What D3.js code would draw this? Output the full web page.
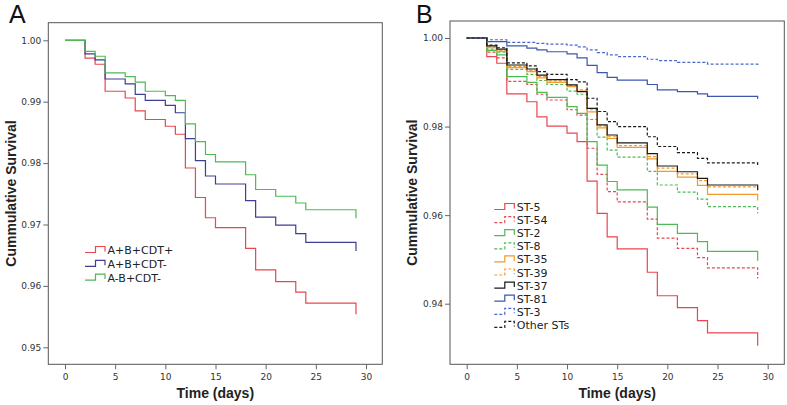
<!DOCTYPE html>
<html>
<head>
<meta charset="utf-8">
<script src="https://cdn.jsdelivr.net/npm/d3@7"></script>
<style>
  body { margin: 0; background: #fff; }
  svg { display: block; }
  .tick text { font-family: "DejaVu Sans", sans-serif; font-size: 9px; fill: #333; }
  .tick line { stroke: #666; }
  .title { font-family: "Liberation Sans Narrow", "Liberation Sans", sans-serif; font-weight: bold; font-size: 14px; fill: #222; }
  .legend { font-family: "DejaVu Sans", sans-serif; font-size: 11px; fill: #222; }
  .letter { font-family: "Liberation Sans", Arial, sans-serif; font-size: 25px; fill: #111; }
</style>
</head>
<body>
<svg id="chart" width="787" height="405"></svg>
<script>
// jours d'événements (communs à toutes les courbes)
const days = [0, 2, 3, 4, 6, 7, 8, 10, 11, 12, 13, 14, 15, 18, 19, 21, 23, 24, 29];

// === Panneau A ===
const groupsA = ["A+B+CDT+", "A+B+CDT-", "A-B+CDT-"];
const survA1 = [1, 0.9971, 0.9961, 0.9917, 0.9906, 0.9885, 0.9871, 0.9860, 0.9847, 0.9792, 0.9744, 0.9711, 0.9695, 0.9661, 0.9626, 0.9607, 0.9590, 0.9572, 0.9554];
const survA2 = [1, 0.9978, 0.9968, 0.9937, 0.9929, 0.9912, 0.9902, 0.9894, 0.9882, 0.9840, 0.9804, 0.9779, 0.9766, 0.9739, 0.9712, 0.9699, 0.9685, 0.9671, 0.9657];
const survA3 = [1, 0.9982, 0.9974, 0.9947, 0.9941, 0.9932, 0.9917, 0.9910, 0.9902, 0.9864, 0.9835, 0.9814, 0.9802, 0.9781, 0.9757, 0.9746, 0.9735, 0.9724, 0.9710];
const ticksA = [0.95, 0.96, 0.97, 0.98, 0.99, 1.00];

// === Panneau B ===
const groupsB = ["ST-5", "ST-54", "ST-2", "ST-8", "ST-35", "ST-39", "ST-37", "ST-81", "ST-3", "Other STs"];
const st5   = [1, 0.9958, 0.9943, 0.9874, 0.9856, 0.9822, 0.9801, 0.9785, 0.9766, 0.9677, 0.9604, 0.9551, 0.9524, 0.9471, 0.9418, 0.9391, 0.9362, 0.9334, 0.9305];
const st54  = [1, 0.9968, 0.9955, 0.9902, 0.9895, 0.9873, 0.9860, 0.9838, 0.9826, 0.9751, 0.9692, 0.9653, 0.9630, 0.9591, 0.9548, 0.9525, 0.9504, 0.9481, 0.9457];
const st2   = [1, 0.9972, 0.9962, 0.9913, 0.9900, 0.9877, 0.9866, 0.9845, 0.9830, 0.9766, 0.9713, 0.9676, 0.9657, 0.9618, 0.9579, 0.9559, 0.9540, 0.9518, 0.9497];
const st8   = [1, 0.9975, 0.9968, 0.9929, 0.9918, 0.9904, 0.9895, 0.9880, 0.9873, 0.9816, 0.9776, 0.9747, 0.9731, 0.9699, 0.9668, 0.9652, 0.9636, 0.9619, 0.9604];
const st35  = [1, 0.9978, 0.9970, 0.9933, 0.9924, 0.9910, 0.9900, 0.9890, 0.9880, 0.9833, 0.9797, 0.9773, 0.9753, 0.9727, 0.9699, 0.9686, 0.9667, 0.9647, 0.9633];
const st39  = [1, 0.9980, 0.9972, 0.9936, 0.9927, 0.9913, 0.9903, 0.9893, 0.9883, 0.9838, 0.9801, 0.9777, 0.9757, 0.9732, 0.9706, 0.9693, 0.9678, 0.9664, 0.9652];
const st37  = [1, 0.9982, 0.9975, 0.9939, 0.9930, 0.9916, 0.9906, 0.9894, 0.9879, 0.9841, 0.9804, 0.9781, 0.9763, 0.9739, 0.9711, 0.9698, 0.9683, 0.9668, 0.9656];
const st81  = [1, 0.9992, 0.9992, 0.9982, 0.9977, 0.9973, 0.9969, 0.9964, 0.9955, 0.9938, 0.9922, 0.9911, 0.9905, 0.9895, 0.9883, 0.9879, 0.9874, 0.9868, 0.9862];
const st3   = [1, 0.9996, 0.9996, 0.9990, 0.9990, 0.9988, 0.9986, 0.9984, 0.9980, 0.9973, 0.9967, 0.9962, 0.9958, 0.9952, 0.9949, 0.9945, 0.9945, 0.9941, 0.9938];
const other = [1, 0.9984, 0.9978, 0.9944, 0.9937, 0.9924, 0.9918, 0.9906, 0.9901, 0.9864, 0.9834, 0.9811, 0.9800, 0.9777, 0.9755, 0.9741, 0.9728, 0.9718, 0.9709];
const ticksB = [0.94, 0.96, 0.98, 1.00];
const ticksX = [0, 5, 10, 15, 20, 25, 30];

const RED = "#e8474d", GREEN = "#4cbb52", ORANGE = "#f29a2c", BLACK = "#1a1a1a";

const svg = d3.select('#chart');

function drawPanel(cfg) {
  const g = svg.append('g');
  const x = d3.scaleLinear().domain([0, 30]).range(cfg.xRange);
  const y = d3.scaleLinear().domain(cfg.yDomain).range(cfg.yRange);

  // cadre
  g.append('rect')
    .attr('x', cfg.box[0]).attr('y', cfg.box[1])
    .attr('width', cfg.box[2] - cfg.box[0]).attr('height', cfg.box[3] - cfg.box[1])
    .attr('fill', 'none').attr('stroke', '#555').attr('stroke-width', 1);

  // axes
  const ya = g.append('g').attr('transform', `translate(${cfg.box[0]},0)`)
    .call(d3.axisLeft(y).tickValues(cfg.yTicks).tickFormat(d3.format('.2f')).tickSize(5).tickPadding(2));
  ya.select('.domain').remove();
  const xa = g.append('g').attr('transform', `translate(0,${cfg.box[3]})`)
    .call(d3.axisBottom(x).tickValues(ticksX).tickFormat(d3.format('d')).tickSize(5).tickPadding(4));
  xa.select('.domain').remove();

  // titres
  g.append('text').attr('class', 'title').attr('text-anchor', 'middle')
    .attr('x', (cfg.box[0] + cfg.box[2]) / 2).attr('y', 398).text('Time (days)');
  g.append('text').attr('class', 'title').attr('text-anchor', 'middle')
    .attr('transform', `translate(${cfg.yTitleX},${(cfg.box[1] + cfg.box[3]) / 2}) rotate(-90)`)
    .text('Cummulative Survival');
  g.append('text').attr('class', 'letter').attr('x', cfg.letterX).attr('y', 23).text(cfg.letter);

  // courbes de survie en escalier
  const line = d3.line().x(d => x(d[0])).y(d => y(d[1])).curve(d3.curveStepAfter);
  cfg.series.forEach(s => {
    g.append('path')
      .attr('d', line(days.map((d, i) => [d, s.values[i]])))
      .attr('fill', 'none')
      .attr('stroke', s.color)
      .attr('stroke-width', 1.2)
      .attr('stroke-dasharray', s.dash ? '3,2' : null);
  });

  // légende
  const lg = g.append('g');
  cfg.series.forEach((s, i) => {
    const by = cfg.legend.y + i * cfg.legend.step;
    const x0 = cfg.legend.x;
    lg.append('path')
      .attr('d', `M${x0},${by - 1.5}H${x0 + 10.5}V${by - 7.5}H${x0 + 20}V${by - 2.5}`)
      .attr('fill', 'none').attr('stroke', s.color).attr('stroke-width', 1.2)
      .attr('stroke-dasharray', s.dash ? '3,2' : null);
    lg.append('text').attr('class', 'legend')
      .attr('x', x0 + 22.5).attr('y', by).text(s.name);
  });
}

drawPanel({
  letter: 'A', letterX: 9,
  box: [48.3, 22.7, 382.3, 364.3],
  xRange: [65, 366],
  yDomain: [0.95, 1.00], yRange: [347.3, 40.3],
  yTicks: ticksA, yTitleX: 15.5,
  legend: { x: 85, y: 254, step: 13.8 },
  series: [
    { name: groupsA[0], values: survA1, color: RED },
    { name: groupsA[1], values: survA2, color: "#3e3e92" },
    { name: groupsA[2], values: survA3, color: GREEN }
  ]
});

drawPanel({
  letter: 'B', letterX: 416,
  box: [450, 21, 784.3, 364.3],
  xRange: [466.7, 767.7],
  yDomain: [0.94, 1.00], yRange: [303.7, 38],
  yTicks: ticksB, yTitleX: 417,
  legend: { x: 494.3, y: 211, step: 13.1 },
  series: [
    { name: groupsB[0], values: st5, color: RED },
    { name: groupsB[1], values: st54, color: RED, dash: true },
    { name: groupsB[2], values: st2, color: GREEN },
    { name: groupsB[3], values: st8, color: GREEN, dash: true },
    { name: groupsB[4], values: st35, color: ORANGE },
    { name: groupsB[5], values: st39, color: ORANGE, dash: true },
    { name: groupsB[6], values: st37, color: BLACK },
    { name: groupsB[7], values: st81, color: "#3b58ad" },
    { name: groupsB[8], values: st3, color: "#4a68cc", dash: true },
    { name: groupsB[9], values: other, color: BLACK, dash: true }
  ]
});
</script>
</body>
</html>
